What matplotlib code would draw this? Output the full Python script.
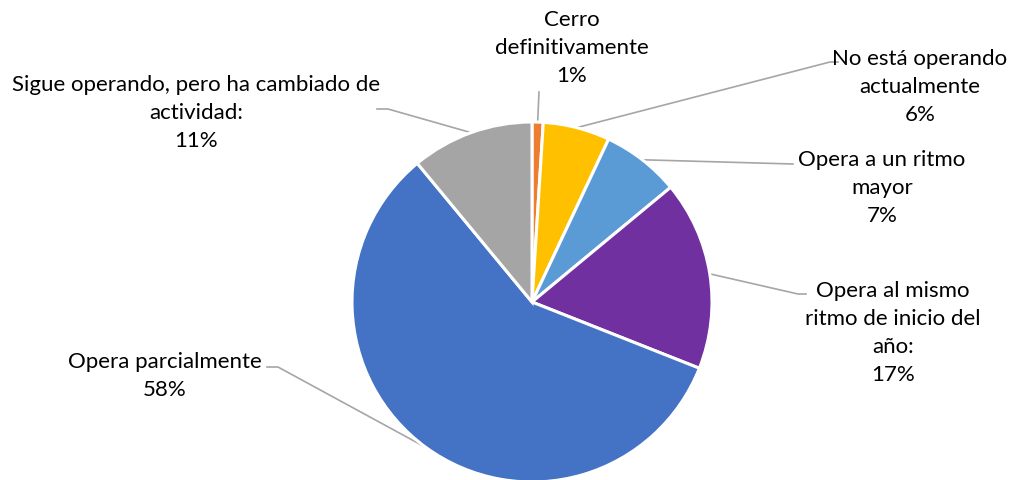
import numpy as np
import matplotlib.pyplot as plt

# datos
categorias = ['Cerro\ndefinitivamente', 'No está operando\nactualmente', 'Opera a un ritmo\nmayor',
              'Opera al mismo\nritmo de inicio del\naño:', 'Opera parcialmente',
              'Sigue operando, pero ha cambiado de\nactividad:']
valores = [1, 6, 7, 17, 58, 11]
colores = ['#ED7D31', '#FFC000', '#5B9BD5', '#7030A0', '#4472C4', '#A5A5A5']

W, H = 1022, 481
cx, cy, r = 532, H - 303, 180

# posiciones de etiquetas (pixeles, y hacia abajo) y codos de las lineas guia
pos_texto = [(572, 48), (920, 87), (882, 188), (893, 333), (165, 376), (196, 113)]
codos = [[(539, 93)],
         [(830, 63), (838, 63)],
         [(793, 165)],
         [(798, 295), (806, 295)],
         [(278, 368), (267, 368)],
         [(388, 110), (377, 110)]]

plt.rcParams['font.family'] = ['Lato', 'DejaVu Sans']

fig = plt.figure(figsize=(W / 100, H / 100), dpi=100)
ax = fig.add_axes([0, 0, 1, 1])

wedges, _ = ax.pie(valores, colors=colores, startangle=90, counterclock=False,
                   center=(cx, cy), radius=r, frame=True,
                   wedgeprops=dict(edgecolor='white', linewidth=2.2))
ax.set_xlim(0, W)
ax.set_ylim(0, H)
ax.set_aspect('equal')
ax.axis('off')

for w, cat, val, (tx, ty), codo in zip(wedges, categorias, valores, pos_texto, codos):
    ang = np.deg2rad((w.theta1 + w.theta2) / 2)
    ax_x = cx + r * np.cos(ang)
    ax_y = cy + r * np.sin(ang)
    xs = [ax_x] + [p[0] for p in codo]
    ys = [ax_y] + [H - p[1] for p in codo]
    ax.plot(xs, ys, color='#A6A6A6', lw=1.2, zorder=0)
    ax.text(tx, H - ty, f'{cat}\n{val}%', ha='center', va='center',
            multialignment='center', fontsize=16, linespacing=1.5, color='black')

fig.savefig('out.png', dpi=100)
